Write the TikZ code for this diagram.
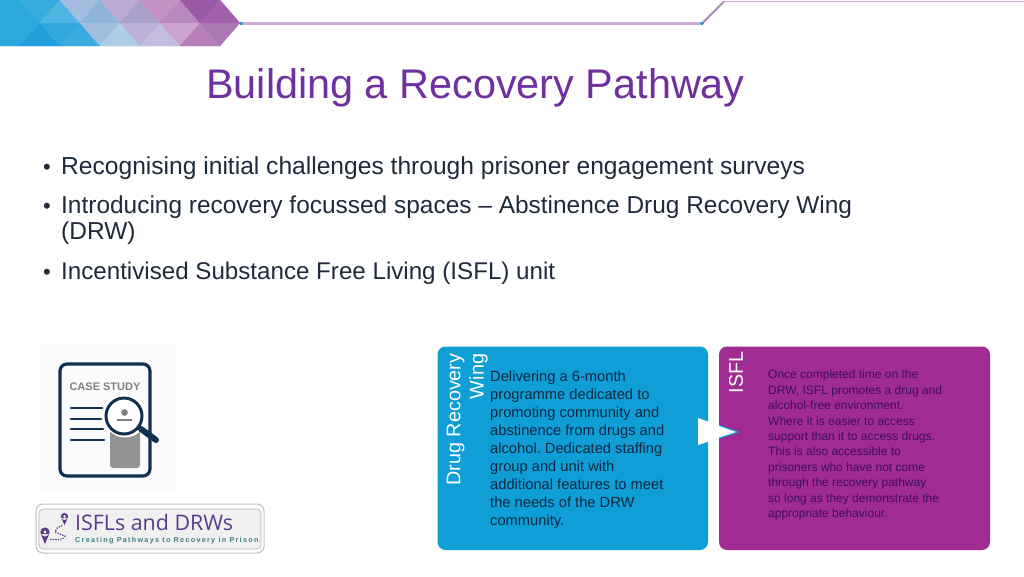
\documentclass[tikz,border=0pt]{standalone}
\usepackage{fontspec}
\setmainfont{Liberation Sans}
\newfontfamily\logofont{Liberation Sans}
\newfontfamily\logohead{Open Sans}
\newfontfamily\logospaced[LetterSpace=18]{Liberation Sans}
\newcommand\tile[2]{\definecolor{tilec}{HTML}{#1}\fill[tilec,draw=tilec,line width=0.2pt] #2;}
\begin{document}
\frenchspacing
\begin{tikzpicture}[x=1pt,y=-1pt,
  bodytext/.style={anchor=north west,inner sep=0pt,align=left},
  sidelabel/.style={rotate=90,inner sep=0pt,text=white,font=\fontsize{19.8}{23}\selectfont},
  bullettext/.style={anchor=base west,inner sep=0pt,align=left,text=bodygrey,font=\fontsize{24.5}{26}\selectfont},
  bulletdot/.style={anchor=base,inner sep=0pt,text=bodygrey,font=\fontsize{22}{26}\selectfont},
  panel/.style={rounded corners=8pt,draw=none}
]
\definecolor{navytext}{HTML}{0E2841}
\definecolor{plumtext}{HTML}{3D1055}
\definecolor{bodygrey}{HTML}{1F2A3C}
\definecolor{titlec}{HTML}{7030A0}
\definecolor{drwblue}{HTML}{0F9ED5}
\definecolor{isflpurple}{HTML}{A02B93}
\definecolor{linepurple}{HTML}{CBAAD8}
\definecolor{diagpurple}{HTML}{A98BB8}
\definecolor{iconnavy}{HTML}{12304F}
\definecolor{logopurple}{HTML}{5B3A8C}
\definecolor{logoteal}{HTML}{3F8080}
\useasboundingbox (0,0) rectangle (1024,576);
\fill[white] (0,0) rectangle (1024,576);
% banner
\tile{2BA8DC}{(0,0) -- (20,0) -- (40,23) -- (20,46) -- (0,46) -- cycle}
\tile{35ABDE}{(20,0) -- (60,0) -- (40,23) -- cycle}
\tile{50B5E3}{(60,0) -- (80,23) -- (40,23) -- cycle}
\tile{A3BCE0}{(60,0) -- (100,0) -- (80,23) -- cycle}
\tile{8FB4DA}{(100,0) -- (120,23) -- (80,23) -- cycle}
\tile{BBAAD6}{(100,0) -- (140,0) -- (120,23) -- cycle}
\tile{A9A0CB}{(140,0) -- (160,23) -- (120,23) -- cycle}
\tile{C490C4}{(140,0) -- (180,0) -- (160,23) -- cycle}
\tile{B988BE}{(180,0) -- (200,23) -- (160,23) -- cycle}
\tile{9A5BA6}{(180,0) -- (220,0) -- (200,23) -- cycle}
\tile{A060AA}{(220,0) -- (240,23) -- (200,23) -- cycle}
\tile{20A0DB}{(40,23) -- (60,46) -- (20,46) -- cycle}
\tile{30A8DD}{(40,23) -- (80,23) -- (60,46) -- cycle}
\tile{3AAADF}{(80,23) -- (100,46) -- (60,46) -- cycle}
\tile{9FBEE0}{(80,23) -- (120,23) -- (100,46) -- cycle}
\tile{AECDE6}{(120,23) -- (140,46) -- (100,46) -- cycle}
\tile{BDB1DB}{(120,23) -- (160,23) -- (140,46) -- cycle}
\tile{C4BDE0}{(160,23) -- (180,46) -- (140,46) -- cycle}
\tile{CBA5D0}{(160,23) -- (200,23) -- (180,46) -- cycle}
\tile{B780BC}{(200,23) -- (220,46) -- (180,46) -- cycle}
\tile{AA78B2}{(200,23) -- (240,23) -- (220,46) -- cycle}
% rules
\draw[linepurple,line width=2.2pt] (240,23.5) -- (702,23.5);
\draw[diagpurple,line width=1.8pt] (702,23.5) -- (724,1.5);
\draw[linepurple,line width=1.2pt] (724,1.5) -- (1024,1.5);
\fill[drwblue] (241,23.5) circle (1.8);
\fill[drwblue] (702,23.5) circle (1.8);
% title
\node[anchor=base,inner sep=0pt,text=titlec,font=\fontsize{41.4}{46}\selectfont] (title) at (475.5,98) {Building a Recovery Pathway};
% bullets
\node[bulletdot] (b1) at (47,174) {•};
\node[bullettext,font=\fontsize{24.6}{26}\selectfont] (t1) at (61,174) {Recognising initial challenges through prisoner engagement surveys};
\node[bulletdot] (b2) at (47,213) {•};
\node[bullettext,font=\fontsize{24.45}{26}\selectfont] (t2) at (61,213) {Introducing recovery focussed spaces – Abstinence Drug Recovery Wing};
\node[bullettext] (t2b) at (61,239) {(DRW)};
\node[bulletdot] (b3) at (47,279) {•};
\node[bullettext,font=\fontsize{24.15}{26}\selectfont] (t3) at (61,279) {Incentivised Substance Free Living (ISFL) unit};
% case study icon
\fill[black!1.5] (40,345) rectangle (176,490);
\draw[iconnavy,line width=3.2pt,rounded corners=7pt] (60,364) rectangle (150,476);
\node[inner sep=0pt,text=gray,font=\logofont\bfseries\fontsize{11}{12}\selectfont] (cs) at (105,387) {CASE STUDY};
\draw[iconnavy,line width=2.6pt,line cap=round] (71,408) -- (102,408);
\draw[iconnavy,line width=2.6pt,line cap=round] (71,419) -- (101,419);
\draw[iconnavy,line width=2.6pt,line cap=round] (71,429) -- (103,429);
\draw[iconnavy,line width=2.6pt,line cap=round] (71,440) -- (104,440);
\fill[gray!85,rounded corners=3pt] (110,430) rectangle (140,468);
\draw[white,line width=2pt,fill=white] (125,416) circle (20.5);
\draw[iconnavy,line width=3pt] (124,416) circle (18);
\draw[iconnavy,line width=6pt,line cap=round] (141,429) -- (156,440);
\fill[gray] (124.5,412.5) circle (3.4);
\fill[gray] (117,419) rectangle (132,420.5);
% logo
\draw[gray!50,line width=1pt,fill=white,rounded corners=7pt] (36,504) rectangle (264,553);
\fill[black!6,draw=gray!60,line width=0.6pt,rounded corners=4pt] (39,509) rectangle (261,549);
\node[anchor=base west,inner sep=0pt,text=logopurple,font=\logohead\fontsize{21.4}{27}\selectfont] (logoA) at (75,530) {ISFLs and DRWs};
\node[anchor=base west,inner sep=0pt,text=logoteal,font=\logospaced\bfseries\fontsize{7.2}{9}\selectfont] (logoB) at (75,542) {Creating Pathways to Recovery in Prison};
\draw[logopurple,line width=1.2pt,dash pattern=on 1.3pt off 1.3pt] (50,539.5) -- (62,539.5) -- (65,536) -- (55,532) -- (57,528) -- (63,525);
\fill[logopurple] (45,532) circle (4.6) (40.8,534) -- (45,544) -- (49.2,534) -- cycle;
\fill[white] (45,532) circle (1.7);
\fill[logopurple] (64.5,516.5) circle (3.6) (61.3,518) -- (64.5,525) -- (67.7,518) -- cycle;
\fill[white] (64.5,516.5) circle (1.3);
% panels
\fill[panel,fill=drwblue] (437.5,346.5) rectangle (708,550);
\fill[panel,fill=isflpurple] (719,346.5) rectangle (990,550);
\node[sidelabel] (drugrec) at (455.5,419.5) {Drug Recovery};
\node[sidelabel] (wing) at (478.5,376.5) {Wing};
\node[sidelabel] (isfl) at (736,372.5) {ISFL};
\node[bodytext,text=navytext,font=\fontsize{14.7}{18}\selectfont] (drwtext) at (490,370.5) {Delivering a 6-month\\programme dedicated to\\promoting community and\\abstinence from drugs and\\alcohol. Dedicated staffing\\group and unit with\\additional features to meet\\the needs of the DRW\\community.};
\node[bodytext,text=plumtext,font=\fontsize{12}{15.4}\selectfont] (isfltext) at (768,370) {Once completed time on the\\DRW, ISFL promotes a drug and\\alcohol-free environment.\\Where it is easier to access\\support than it to access drugs.\\This is also accessible to\\prisoners who have not come\\through the recovery pathway\\so long as they demonstrate the\\appropriate behaviour.};
% arrow
\fill[white] (698,418) -- (738,432) -- (698,445) -- cycle;
\draw[drwblue,line width=1pt] (719,425.4) -- (738,432) -- (719,438.2);
\end{tikzpicture}
\end{document}
